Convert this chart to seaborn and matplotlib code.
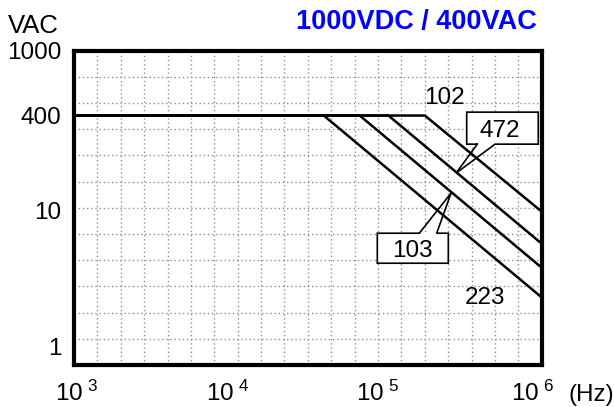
import numpy as np
import pandas as pd
import matplotlib
matplotlib.use("Agg")
import matplotlib.pyplot as plt
import matplotlib.transforms as mtransforms
from matplotlib.patches import Rectangle
import seaborn as sns

# ---------------- data ----------------
series_names = ["223", "103", "472", "102"]
break_freq = [4.0e4, 6.8e4, 1.04e5, 1.78e5]      # Hz where the curve leaves 400 VAC
end_vac = [2.3, 3.8, 5.7, 9.8]                   # VAC at 1 MHz
flat_vac = 400
freq_min, freq_max = 1e3, 1e6

y_ticks = [1, 10, 400, 1000]
y_tick_labels = ["1", "10", "400", "1000"]
x_ticks = [1e3, 1e4, 1e5, 1e6]
x_tick_labels = [r"$\mathregular{10^{\ 3}}$", r"$\mathregular{10^{\ 4}}$",
                 r"$\mathregular{10^{\ 5}}$", r"$\mathregular{10^{\ 6}}$"]

rows = []
for name, bf, ev in zip(series_names, break_freq, end_vac):
    rows.append((name, freq_min, flat_vac))
    rows.append((name, bf, flat_vac))
    rows.append((name, freq_max, ev))
df = pd.DataFrame(rows, columns=["series", "freq", "vac"])

# ---------------- style ----------------
sns.set_theme(style="white")
plt.rcParams["font.family"] = ["Liberation Sans", "DejaVu Sans"]
plt.rcParams["mathtext.fontset"] = "custom"
plt.rcParams["mathtext.rm"] = "Liberation Sans"
for k in ["text.color", "axes.labelcolor", "xtick.color", "ytick.color"]:
    plt.rcParams[k] = "black"

FS = 17.5

fig = plt.figure(figsize=(6.14, 4.07), dpi=100)
ax = fig.add_axes([74 / 614, 42 / 407, 467.7 / 614, 314.5 / 407])

sns.lineplot(data=df, x="freq", y="vac", units="series", estimator=None,
             color="black", linewidth=1.8, ax=ax, legend=False, sort=False, zorder=4)

# schematic (non-uniform) vertical scale of the datasheet
L = np.array([-1.0, 0.0, 1.0, np.log10(400), 3.0, 4.0])
P = np.array([18.3 - 136.2, 18.3, 154.5, 249.3, 314.3, 314.3 + 163.3])


def fwd(v):
    v = np.asarray(v, dtype=float)
    return np.interp(np.log10(np.clip(v, 1e-9, None)), L, P)


def inv(p):
    p = np.asarray(p, dtype=float)
    return 10 ** np.interp(p, P, L)


ax.set_xscale("log")
ax.set_yscale("function", functions=(fwd, inv))
ax.set_xlim(freq_min, freq_max)
ax.set_ylim(inv(0.0), 1000)

ax.set_xticks(x_ticks)
ax.set_xticklabels(x_tick_labels)
ax.set_yticks(y_ticks)
ax.set_yticklabels(y_tick_labels)
ax.minorticks_off()
ax.tick_params(axis="both", length=0, labelsize=FS, colors="black")
ax.tick_params(axis="y", pad=9.0)
ax.tick_params(axis="x", pad=11.5)
ax.set_xlabel("")
ax.set_ylabel("")
ax.grid(False)

# small horizontal nudges of the x labels as in the original drawing (pixels)
for lab, dx in zip(ax.get_xticklabels(), [3, -2, -8, -9]):
    lab.set_transform(lab.get_transform() +
                      mtransforms.ScaledTranslation(dx / 100, 0, fig.dpi_scale_trans))

# uniform dotted grid (20 x 12) of the original drawing
for i in range(1, 20):
    ax.plot([i / 20, i / 20], [0, 1], transform=ax.transAxes, color="#8f8f8f",
            lw=1.0, ls=(0, (1, 2)), zorder=1)
for j in range(1, 12):
    ax.plot([0, 1], [j / 12, j / 12], transform=ax.transAxes, color="#8f8f8f",
            lw=1.0, ls=(0, (1, 2)), zorder=1)

for sp in ax.spines.values():
    sp.set_visible(True)
    sp.set_color("black")
    sp.set_linewidth(3.0)
    sp.set_zorder(6)


def callout(box, base, tip, text, text_pos):
    x0, x1, y0, y1 = box  # axes fraction, y0 bottom, y1 top
    ax.add_patch(Rectangle((x0, y0), x1 - x0, y1 - y0, transform=ax.transAxes,
                           facecolor="white", edgecolor="none", zorder=5))
    bx0, bx1, by = base
    if by == y0:  # notch on bottom edge
        xs = [bx0, x0, x0, x1, x1, bx1, tip[0], bx0]
        ys = [y0, y0, y1, y1, y0, y0, tip[1], y0]
    else:         # notch on top edge
        xs = [bx0, x0, x0, x1, x1, bx1, tip[0], bx0]
        ys = [y1, y1, y0, y0, y1, y1, tip[1], y1]
    ax.plot(xs, ys, transform=ax.transAxes, color="black", lw=1.2, zorder=5,
            solid_joinstyle="miter", clip_on=False)
    ax.text(text_pos[0], text_pos[1], text, transform=ax.transAxes, fontsize=FS,
            ha="center", va="center_baseline", zorder=7)


callout((0.8396, 0.9927, 0.7022, 0.8040), (0.8623, 0.9002, 0.7022),
        (0.8168, 0.6099), "472", (0.911, 0.7531))
callout((0.6485, 0.8003, 0.3236, 0.4190), (0.7383, 0.7755, 0.4190),
        (0.8061, 0.5463), "103", (0.7243, 0.3700))

ax.text(0.7911, 0.8559, "102", transform=ax.transAxes, fontsize=FS,
        ha="center", va="center_baseline", zorder=7)
ax.text(0.8788, 0.2195, "223", transform=ax.transAxes, fontsize=FS,
        ha="center", va="center_baseline", zorder=7)

fig.text(8 / 614, 1 - 33 / 407, "VAC", fontsize=18.5, ha="left", va="baseline")
fig.text(537 / 614, 1 - 29.3 / 407, "1000VDC / 400VAC", fontsize=19.5,
         fontweight="bold", color="#0000FF", ha="right", va="baseline")
fig.text(568 / 614, 1 - 401 / 407, "(Hz)", fontsize=FS, ha="left", va="baseline")

fig.savefig("out.png", dpi=100, facecolor="white")
